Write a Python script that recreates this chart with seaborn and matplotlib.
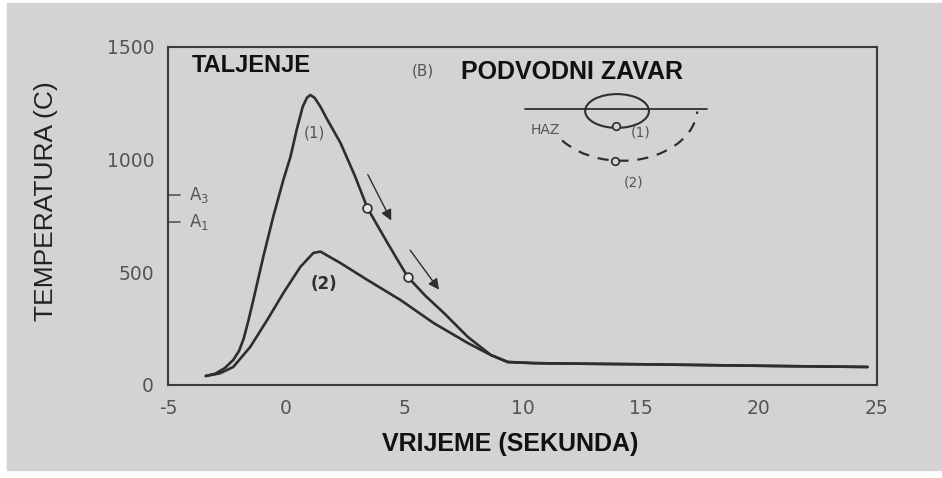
import matplotlib
matplotlib.use("Agg")
import matplotlib.pyplot as plt
from matplotlib.patches import Rectangle, Ellipse, Arc
import numpy as np
import pandas as pd
import seaborn as sns

# temperature curves (time in s, temperature in C)
time_1 = [-3.4, -3.0, -2.6, -2.24, -2.0, -1.8, -1.6, -1.39, -0.97, -0.55, -0.12, 0.18,
          0.45, 0.7, 0.88, 1.02, 1.2, 1.45, 1.75, 2.3, 2.9, 3.44, 4.29, 5.14, 5.9, 6.67,
          7.69, 8.66, 9.38, 10.5, 12, 15, 18, 21, 24.6]
temp_1 = [40, 50, 75, 111, 150, 205, 285, 377, 568, 746, 910, 1012,
          1135, 1235, 1275, 1287, 1275, 1235, 1176, 1074, 930, 785, 630, 480, 395, 320,
          213, 133, 102, 97, 95, 92, 88, 84, 80]

time_2 = [-3.4, -2.8, -2.24, -1.52, -0.8, -0.12, 0.6, 1.15, 1.45, 2.3, 3.44, 4.84,
          6.24, 7.69, 8.66, 9.38, 10.5, 12, 15, 18, 21, 24.6]
temp_2 = [40, 52, 80, 169, 289, 408, 524, 586, 592, 541, 466, 377,
          275, 186, 133, 102, 97, 95, 92, 88, 84, 80]

# points marked with circles on curve (1)
mark_t = [3.44, 5.14]
mark_T = [785, 480]

x_ticks = [-5, 0, 5, 10, 15, 20, 25]
y_ticks = [0, 500, 1000, 1500]
crit_names = ["A$_3$", "A$_1$"]
crit_temps = [843, 723]

df1 = pd.DataFrame({"t": time_1, "T": temp_1})
df2 = pd.DataFrame({"t": time_2, "T": temp_2})

bg = "#d3d3d3"
ink = "#2e2e2e"
grey_txt = "#555555"

sns.set_style("white")
plt.rcParams["font.family"] = ["DejaVu Sans"]
plt.rcParams["axes.unicode_minus"] = False
bold_font = ["Liberation Sans"]

fig = plt.figure(figsize=(9.42, 4.78), dpi=100, facecolor="white")
fig.patches.append(Rectangle((7 / 942, 8 / 478), 1, 1 - 11 / 478,
                             transform=fig.transFigure, color=bg, zorder=-10))
ax = fig.add_axes([168 / 942, 93 / 478, 709 / 942, 338 / 478])
ax.set_facecolor(bg)

sns.lineplot(data=df1, x="t", y="T", sort=False, estimator=None, color=ink, lw=1.9, ax=ax)
sns.lineplot(data=df2, x="t", y="T", sort=False, estimator=None, color=ink, lw=1.9, ax=ax)
ax.scatter(mark_t, mark_T, s=40, facecolor="#e6e6e6", edgecolor=ink, lw=1.2, zorder=5)

# cooling direction arrows
ax.annotate("", xy=(4.5, 719), xytext=(3.4, 945),
            arrowprops=dict(arrowstyle="-|>", color=ink, lw=1.0, mutation_scale=16))
ax.annotate("", xy=(6.54, 413), xytext=(5.18, 608),
            arrowprops=dict(arrowstyle="-|>", color=ink, lw=1.0, mutation_scale=16))

ax.text(1.2, 1120, "(1)", color=grey_txt, fontsize=11, ha="center", va="center")
ax.text(1.6, 450, "(2)", color=ink, fontsize=12, fontweight="bold", ha="center", va="center")

# critical temperatures A3 / A1
for name, val in zip(crit_names, crit_temps):
    ax.plot([-5, -4.5], [val, val], color=grey_txt, lw=1.2)
    ax.text(-4.1, val, name, color=grey_txt, fontsize=12, va="center", ha="left")

# weld cross-section sketch
ax.plot([10.1, 17.8], [1225, 1225], color=ink, lw=1.3)
ax.add_patch(Ellipse((14.0, 1216), 2.7, 150, fill=False, ec=ink, lw=1.5))
arc_w, arc_h = 6.4, 470
t1 = np.degrees(np.arctan2(arc_h * np.sin(np.radians(218)), arc_w * np.cos(np.radians(218)))) % 360
t2 = np.degrees(np.arctan2(arc_h * np.sin(np.radians(356)), arc_w * np.cos(np.radians(356)))) % 360
ax.add_patch(Arc((14.2, 1230), arc_w, arc_h, theta1=t1, theta2=t2,
                 ec=ink, lw=1.6, ls=(0, (5, 4))))
ax.scatter([13.96, 13.92], [1150, 994], s=30, facecolor=bg, edgecolor=ink, lw=1.2, zorder=5)
ax.text(10.95, 1132, "HAZ", color=grey_txt, fontsize=10, ha="center", va="center")
ax.text(15.0, 1120, "(1)", color=grey_txt, fontsize=10, ha="center", va="center")
ax.text(14.7, 897, "(2)", color=grey_txt, fontsize=10, ha="center", va="center")

ax.text(-4.0, 1418, "TALJENJE", fontsize=17, fontweight="bold", color="#111111",
        family=bold_font, va="center")
ax.text(5.3, 1392, "(B)", fontsize=11, color=grey_txt, va="center")
ax.text(7.4, 1390, "PODVODNI ZAVAR", fontsize=18, fontweight="bold", color="#111111",
        family=bold_font, va="center")

ax.set_xlim(-5, 25)
ax.set_ylim(0, 1500)
ax.set_xticks(x_ticks)
ax.set_yticks(y_ticks)
ax.tick_params(axis="both", direction="out", length=6, width=1.3, color=ink,
               labelsize=13.5, labelcolor=grey_txt, pad=4)
for s in ax.spines.values():
    s.set_color("#3a3a3a")
    s.set_linewidth(1.5)

ax.set_xlabel("VRIJEME (SEKUNDA)", fontsize=18, fontweight="bold", color="#111111",
              family=bold_font)
ax.xaxis.set_label_coords(0.482, -0.14)
ax.set_ylabel("TEMPERATURA (C)", fontsize=19, color="#222222", family=bold_font)
ax.yaxis.set_label_coords(-0.155, 0.545)

fig.savefig("out.png", dpi=100, facecolor=fig.get_facecolor())
